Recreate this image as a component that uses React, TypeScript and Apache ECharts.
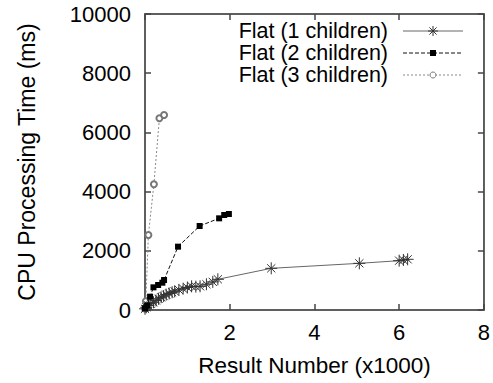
import React, { useEffect, useRef } from "react";
import * as echarts from "echarts";

const s1X = [0.0, 0.03, 0.08, 0.14, 0.2, 0.26, 0.32, 0.38, 0.44, 0.5, 0.57, 0.64, 0.7, 0.8, 0.9, 1.0, 1.1, 1.2, 1.3, 1.45, 1.6, 1.72, 2.98, 5.06, 6.0, 6.1, 6.2];
const s1Y = [40, 90, 150, 210, 260, 320, 380, 430, 470, 520, 560, 600, 630, 680, 720, 760, 800, 790, 800, 870, 950, 1037, 1408, 1577, 1666, 1690, 1712];

const s2X = [0.0, 0.05, 0.12, 0.2, 0.31, 0.41, 0.45, 0.78, 1.29, 1.75, 1.87, 1.98];
const s2Y = [57, 150, 450, 766, 845, 922, 1013, 2140, 2838, 3097, 3209, 3243];

const s3X = [0.0, 0.02, 0.08, 0.21, 0.34, 0.45];
const s3Y = [50, 300, 2534, 4246, 6476, 6588];

const seriesNames = ["Flat (1 children)", "Flat (2 children)", "Flat (3 children)"];
const xTicks = [0, 2, 4, 6, 8];
const yTicks = [0, 2000, 4000, 6000, 8000, 10000];

const FONT = "'Liberation Sans', Arial, sans-serif";
const ASTERISK = "path://M5,0L5,10M0,5L10,5M1.6,1.6L8.4,8.4M8.4,1.6L1.6,8.4";

function zip(xs: number[], ys: number[]) {
  return xs.map((x, i) => [x, ys[i]]);
}

export default function App() {
  const ref = useRef<HTMLDivElement>(null);
  useEffect(() => {
    if (!ref.current) return;
    const chart = echarts.init(ref.current, null, { renderer: "svg" });
    const axisCommon = {
      axisLine: { show: true, onZero: false, lineStyle: { color: "#555", width: 1.5 } },
      axisTick: { show: true, inside: true, length: 6, lineStyle: { color: "#444", width: 1.5 } },
      splitLine: { show: false },
    };
    const legendX1 = 403;
    const legendX2 = 463;
    const legendCx = 433;
    const rowsY = [31, 53, 75];
    const a = 5;
    chart.setOption({
      animation: false,
      textStyle: { fontFamily: FONT },
      grid: { left: 145, right: 9, top: 14, bottom: 73, show: true, borderColor: "#555", borderWidth: 1.5 },
      xAxis: [
        {
          type: "value",
          min: xTicks[0],
          max: xTicks[xTicks.length - 1],
          interval: 2,
          position: "bottom",
          name: "Result Number (x1000)",
          nameLocation: "middle",
          nameGap: 44,
          nameTextStyle: { fontSize: 22.5, color: "#000", fontFamily: FONT },
          axisLabel: {
            fontSize: 22,
            color: "#000",
            margin: 11,
            fontFamily: FONT,
            formatter: (v: number) => (v === 0 ? "" : String(v)),
          },
          ...axisCommon,
        },
        {
          type: "value",
          min: xTicks[0],
          max: xTicks[xTicks.length - 1],
          interval: 2,
          position: "top",
          axisLabel: { show: false },
          ...axisCommon,
        },
      ],
      yAxis: [
        {
          type: "value",
          min: yTicks[0],
          max: yTicks[yTicks.length - 1],
          interval: 2000,
          position: "left",
          name: "CPU Processing Time (ms)",
          nameLocation: "middle",
          nameGap: 107,
          nameTextStyle: { fontSize: 23, color: "#000", fontFamily: FONT },
          axisLabel: { fontSize: 22, color: "#000", margin: 14, fontFamily: FONT, formatter: (v: number) => String(v) },
          ...axisCommon,
        },
        {
          type: "value",
          min: yTicks[0],
          max: yTicks[yTicks.length - 1],
          interval: 2000,
          position: "right",
          axisLabel: { show: false },
          ...axisCommon,
        },
      ],
      series: [
        {
          name: seriesNames[0],
          type: "line",
          data: zip(s1X, s1Y),
          symbol: ASTERISK,
          symbolSize: 12,
          lineStyle: { color: "#666", width: 1, type: "solid" },
          itemStyle: { color: "rgba(0,0,0,0)", borderColor: "#333", borderWidth: 1 },
          z: 3,
        },
        {
          name: seriesNames[1],
          type: "line",
          data: zip(s2X, s2Y),
          symbol: "rect",
          symbolSize: 6,
          lineStyle: { color: "#111", width: 1, type: [4, 2] },
          itemStyle: { color: "#000" },
          z: 4,
        },
        {
          name: seriesNames[2],
          type: "line",
          data: zip(s3X, s3Y),
          symbol: "emptyCircle",
          symbolSize: 6,
          lineStyle: { color: "#888", width: 1, type: [2, 2] },
          itemStyle: { color: "#777", borderWidth: 1 },
          z: 2,
        },
      ],
      graphic: [
        ...seriesNames.map((n, i) => ({
          type: "text",
          x: 388,
          y: rowsY[i],
          style: { text: n, fill: "#000", font: `21.5px ${FONT}`, textAlign: "right", textVerticalAlign: "middle" },
        })),
        { type: "line", shape: { x1: legendX1, y1: rowsY[0], x2: legendX2, y2: rowsY[0] }, style: { stroke: "#666", lineWidth: 1 } },
        { type: "line", shape: { x1: legendX1, y1: rowsY[1], x2: legendX2, y2: rowsY[1] }, style: { stroke: "#111", lineWidth: 1, lineDash: [4, 2] } },
        { type: "line", shape: { x1: legendX1, y1: rowsY[2], x2: legendX2, y2: rowsY[2] }, style: { stroke: "#888", lineWidth: 1, lineDash: [2, 2] } },
        { type: "line", shape: { x1: legendCx - a, y1: rowsY[0], x2: legendCx + a, y2: rowsY[0] }, style: { stroke: "#333", lineWidth: 1 } },
        { type: "line", shape: { x1: legendCx, y1: rowsY[0] - a, x2: legendCx, y2: rowsY[0] + a }, style: { stroke: "#333", lineWidth: 1 } },
        { type: "line", shape: { x1: legendCx - 3.6, y1: rowsY[0] - 3.6, x2: legendCx + 3.6, y2: rowsY[0] + 3.6 }, style: { stroke: "#333", lineWidth: 1 } },
        { type: "line", shape: { x1: legendCx + 3.6, y1: rowsY[0] - 3.6, x2: legendCx - 3.6, y2: rowsY[0] + 3.6 }, style: { stroke: "#333", lineWidth: 1 } },
        { type: "rect", shape: { x: legendCx - 3, y: rowsY[1] - 3, width: 6, height: 6 }, style: { fill: "#000" } },
        { type: "circle", shape: { cx: legendCx, cy: rowsY[2], r: 3 }, style: { fill: "#fff", stroke: "#777", lineWidth: 1 } },
      ],
    });
    return () => chart.dispose();
  }, []);
  return <div ref={ref} style={{ width: 493, height: 383, position: "absolute", left: 0, top: 0, background: "#fff" }} />;
}
